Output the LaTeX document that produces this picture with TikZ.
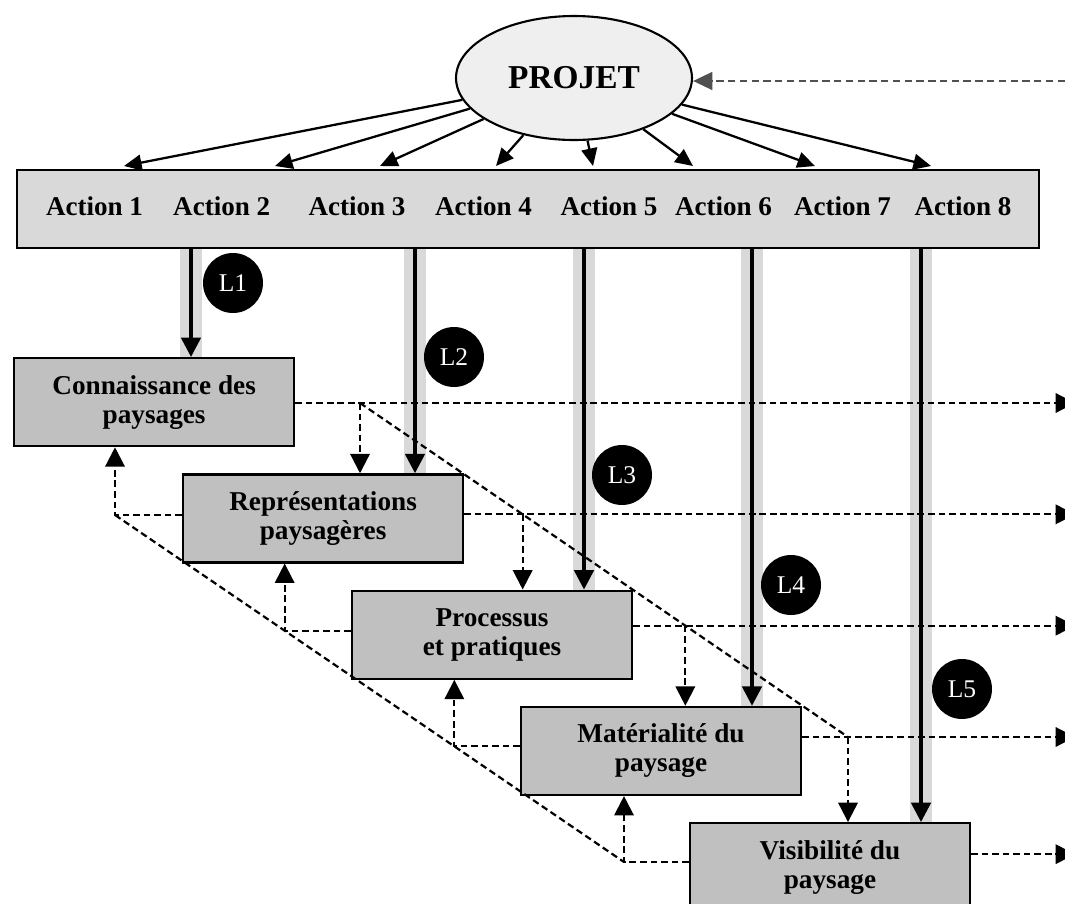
\documentclass[tikz,border=0pt]{standalone}
\usepackage{fontspec}
\setmainfont{Liberation Serif}
\usepackage{xcolor}
\usepackage{tikz}
\usetikzlibrary{shapes.geometric, arrows.meta, positioning, calc}
\definecolor{bargray}{HTML}{D9D9D9}
\definecolor{boxgray}{HTML}{C0C0C0}
\definecolor{ovalgray}{HTML}{EFEFEF}
\definecolor{backgray}{HTML}{505050}
\tikzstyle{projetnode} = [ellipse, draw=black, line width=1.2pt, fill=ovalgray, minimum width=4.72cm, minimum height=2.48cm, inner sep=0pt, font=\fontsize{19}{19}\selectfont\bfseries]
\tikzstyle{actionbar} = [rectangle, draw=black, line width=1.3pt, fill=bargray, minimum width=20.44cm, minimum height=1.56cm]
\tikzstyle{actlabel} = [inner sep=0pt, font=\fontsize{15.4}{16}\selectfont\bfseries]
\tikzstyle{stage} = [rectangle, draw=black, line width=1.3pt, fill=boxgray, minimum width=5.6cm, minimum height=1.76cm, align=center, font=\fontsize{15.5}{16.5}\selectfont\bfseries]
\tikzstyle{lcircle} = [circle, fill=black, minimum size=1.2cm, inner sep=0pt, text=white, font=\fontsize{14.5}{14.5}\selectfont]
\tikzstyle{arrow} = [line width=1.3pt, -{Triangle[length=10pt,width=9pt]}]
\tikzstyle{larrow} = [line width=2pt, -{Triangle[length=11pt,width=11pt]}]
\tikzstyle{stripe} = [line width=0.44cm, bargray]
\tikzstyle{dashline} = [line width=1.25pt, dash pattern=on 3.8pt off 2.2pt]
\tikzstyle{dasharrow} = [dashline, -{Triangle[length=11pt,width=11pt]}]
\tikzstyle{backarrow} = [line width=1.6pt, backgray, dash pattern=on 4.2pt off 2.5pt, -{Triangle[length=11pt,width=10pt]}]

\begin{document}
\begin{tikzpicture}[x=0.02cm, y=-0.02cm]
    \useasboundingbox (0,0) rectangle (1065,903);
    \clip (0,0) rectangle (1065,903);

    % === TOP: project and its eight actions ===
    \node (projet) [projetnode] at (574,78) {PROJET};
    \node (bar) [actionbar] at (528,209) {};
    \foreach \i/\x in {1/94.5, 2/221.7, 3/357, 4/483.5, 5/609, 6/723.5, 7/842.5, 8/963}
        \node (a\i) [actlabel, anchor=base] at (\x,215) {Action \i};

    % project -> actions
    \foreach \i/\x in {1/124, 2/275, 3/380, 4/496, 5/593, 6/693, 7/815, 8/931} {
        \coordinate (t\i) at (\x,166);
        \draw [arrow] (projet) -- (t\i);
    }

    % return into the project
    \coordinate (back) at (1065,81);
    \draw [backarrow] (back) -- (back -| projet.east);

    % === STAGES: each one lower and to the right ===
    \node (conn) [stage, anchor=north west] at (13,357) {Connaissance des\\paysages};
    \node (repr) [stage, below=0.52cm of conn.south west, anchor=north west, xshift=3.38cm] {Représentations\\paysagères};
    \node (proc) [stage, below=0.52cm of repr.south west, anchor=north west, xshift=3.38cm] {Processus\\et pratiques};
    \node (mat) [stage, below=0.52cm of proc.south west, anchor=north west, xshift=3.38cm] {Matérialité du\\paysage};
    \node (vis) [stage, below=0.52cm of mat.south west, anchor=north west, xshift=3.38cm] {Visibilité du\\paysage};

    % === DASHED LINKS between stages ===
    \coordinate (rim) at (1075,0);
    \coordinate (j1) at (360,403);
    \coordinate (j4) at (848,737);
    \coordinate (j2) at ($(j1)!1/3!(j4)$);
    \coordinate (j3) at ($(j1)!2/3!(j4)$);
    \coordinate (k1) at (115,515);
    \coordinate (k4) at (624,862);
    \coordinate (k2) at ($(k1)!1/3!(k4)$);
    \coordinate (k3) at ($(k1)!2/3!(k4)$);
    \coordinate (v) at ([yshift=0.26cm]vis.east);

    % stripes behind the L links
    \foreach \n/\x/\s in {1/191/conn, 2/415/repr, 3/584/proc, 4/752/mat, 5/921/vis} {
        \coordinate (x\n) at (\x,0);
        \draw [stripe] (x\n |- bar.south) -- (x\n |- \s.north);
    }

    \draw [dashline] (j1) -- (j4);
    \draw [dashline] (k1) -- (k4);

    % outputs to the right
    \foreach \s/\j in {conn/j1, repr/j2, proc/j3, mat/j4}
        \draw [dasharrow] (\s.east |- \j) -- (rim |- \j);
    \draw [dasharrow] (v) -- (v -| rim);

    % down to the next stage
    \foreach \j/\s in {j1/repr, j2/proc, j3/mat, j4/vis}
        \draw [dasharrow] (\j) -- (\s.north -| \j);

    % back up to the previous stage
    \foreach \k/\s/\t in {k1/conn/repr, k2/repr/proc, k3/proc/mat, k4/mat/vis}
        \draw [dasharrow] (\t.west |- \k) -- (\k) -- (\s.south -| \k);

    % === LINKS L1-L5 from the actions ===
    \foreach \n/\s in {1/conn, 2/repr, 3/proc, 4/mat, 5/vis}
        \draw [larrow] (x\n |- bar.south) -- (x\n |- \s.north);
    \foreach \n/\x/\y in {1/233/283, 2/454/357, 3/622/475, 4/791/585, 5/962/689}
        \node (l\n) [lcircle] at (\x,\y) {L\n};

\end{tikzpicture}
\end{document}
